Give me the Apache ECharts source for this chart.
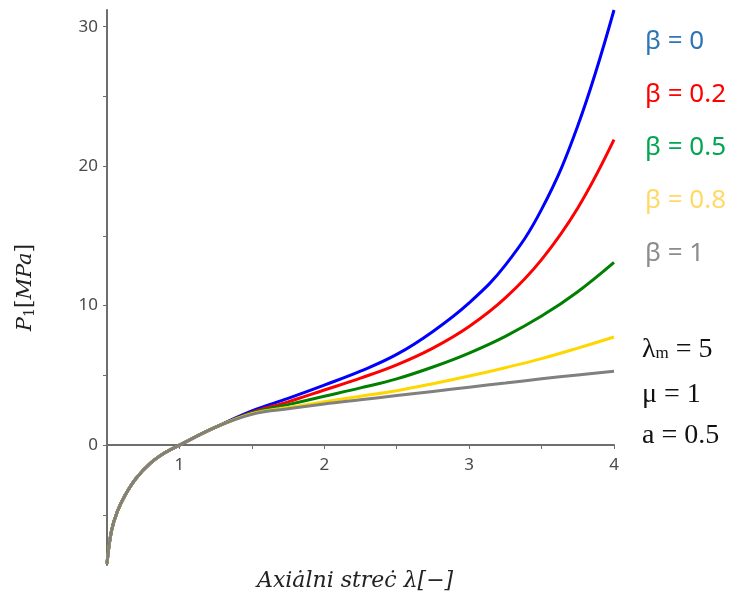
<!DOCTYPE html>
<html>
<head>
<meta charset="utf-8">
<script src="https://cdn.jsdelivr.net/npm/echarts@6/dist/echarts.min.js"></script>
<style>
  html, body { margin: 0; padding: 0; background: #fff; }
  #chart { width: 742px; height: 599px; }
</style>
</head>
<body>
<div id="chart"></div>
<script>
// axial stretch values (lambda)
var lambda = [0.5, 0.53, 0.57, 0.625, 0.7, 0.8, 0.9, 1.0, 1.25,
              1.5, 1.75, 2.0, 2.25, 2.5, 2.75, 3.0, 3.25, 3.5, 3.75, 4.0];

// compression part, all curves lie on top of each other here
var pCommon = [-8.5, -6.2, -4.8, -3.6, -2.4, -1.3, -0.55, 0, 1.28];

// tension part, lambda 1.5 .. 4
var pBeta0   = [2.45, 3.35, 4.3, 5.3, 6.5, 8.15, 10.2, 12.9, 16.9, 22.9, 31.2];
var pBeta02  = [2.35, 3.1, 3.95, 4.8, 5.75, 6.95, 8.5, 10.55, 13.3, 17.0, 21.9];
var pBeta05  = [2.3, 2.9, 3.5, 4.1, 4.75, 5.6, 6.6, 7.8, 9.25, 11.0, 13.1];
var pBeta08  = [2.25, 2.7, 3.1, 3.5, 3.9, 4.4, 4.95, 5.55, 6.2, 6.95, 7.75];
var pBeta1   = [2.2, 2.6, 2.95, 3.25, 3.55, 3.85, 4.15, 4.45, 4.75, 5.03, 5.3];

var betaNames  = ['β = 0', 'β = 0.2', 'β = 0.5', 'β = 0.8', 'β = 1'];
var lineColors = ['#0000ff', '#ff0000', '#008000', '#ffd700', '#808080'];
var textColors = ['#2e75b6', '#ff0000', '#00a651', '#ffd966', '#8c8c8c'];

var yLabels = [0, 10, 20, 30];
var yTicks  = [-5, 0, 5, 10, 15, 20, 25, 30];
var xLabels = [1, 2, 3, 4];
var xTicks  = [1, 1.5, 2, 2.5, 3, 3.5, 4];

function makeData(high) {
    var vals = pCommon.concat(high);
    var out = [];
    for (var i = 0; i < lambda.length; i++) {
        out.push([lambda[i], vals[i]]);
    }
    return out;
}

var allSets = [pBeta0, pBeta02, pBeta05, pBeta08, pBeta1];

var myChart = echarts.init(document.getElementById('chart'));

var seriesList = [];
for (var k = 0; k < allSets.length; k++) {
    seriesList.push({
        name: betaNames[k],
        type: 'line',
        data: makeData(allSets[k]),
        smooth: 0.4,
        showSymbol: false,
        lineStyle: { color: lineColors[k], width: 3 },
        itemStyle: { color: lineColors[k] }
    });
}

var legendData = [];
for (var j = 0; j < betaNames.length; j++) {
    legendData.push({ name: betaNames[j], textStyle: { color: textColors[j] } });
}

var option = {
    animation: false,
    grid: { left: 107, right: 128, top: 10, bottom: 34, containLabel: false, outerBoundsMode: 'none' },
    legend: {
        data: legendData,
        orient: 'vertical',
        left: 638,
        top: 24,
        itemWidth: 0,
        itemHeight: 0,
        itemGap: 27,
        selectedMode: false,
        textStyle: { fontFamily: 'Noto Sans', fontSize: 26, padding: [0, 0, 0, -4] }
    },
    xAxis: {
        type: 'value',
        min: 0.5,
        max: 4,
        // axis sits on P = 0, moved up from the grid bottom
        offset: -120,
        splitLine: { show: false },
        axisLine: { onZero: false, lineStyle: { color: '#6e6e6e', width: 2 } },
        axisTick: { customValues: xTicks, length: 4, lineStyle: { color: '#6e6e6e' } },
        axisLabel: { customValues: xLabels, margin: 12, fontFamily: 'Noto Sans', fontSize: 17, color: '#4a4a4a' }
    },
    yAxis: {
        type: 'value',
        min: -8.6,
        max: 31.2,
        name: '{i|P}{s|1}{n|[}{i|MPa}{n|]}',
        nameLocation: 'middle',
        nameGap: 70,
        nameRotate: 90,
        nameTextStyle: {
            rich: {
                i: { fontFamily: 'DejaVu Serif', fontStyle: 'italic', fontSize: 21, color: '#222' },
                s: { fontFamily: 'DejaVu Serif', fontSize: 14, color: '#222', padding: [9, 0, 0, 0] },
                n: { fontFamily: 'DejaVu Serif', fontSize: 22, color: '#222' }
            }
        },
        splitLine: { show: false },
        axisLine: { onZero: false, lineStyle: { color: '#6e6e6e', width: 2 } },
        axisTick: { customValues: yTicks, length: 4, lineStyle: { color: '#6e6e6e' } },
        axisLabel: { customValues: yLabels, margin: 9, fontFamily: 'Noto Sans', fontSize: 17, color: '#4a4a4a' }
    },
    graphic: [
        {
            type: 'text', left: 257, top: 570,
            style: {
                text: 'Axiȧlni streċ λ[−]',
                fontFamily: 'DejaVu Serif', fontStyle: 'italic', fontSize: 22, fill: '#222'
            }
        },
        {
            type: 'text', left: 642, top: 336,
            style: {
                text: '{l|λ}{m|m}{t| = 5}',
                rich: {
                    l: { fontFamily: 'Liberation Serif', fontSize: 28, fill: '#111' },
                    m: { fontFamily: 'Liberation Serif', fontSize: 17, fill: '#111', padding: [8, 0, 0, 0] },
                    t: { fontFamily: 'Liberation Serif', fontSize: 28, fill: '#111' }
                }
            }
        },
        {
            type: 'text', left: 642, top: 381,
            style: { text: 'μ = 1', fontFamily: 'Liberation Serif', fontSize: 28, fill: '#111' }
        },
        {
            type: 'text', left: 642, top: 422,
            style: { text: 'a = 0.5', fontFamily: 'Liberation Serif', fontSize: 28, fill: '#111' }
        }
    ],
    series: seriesList
};

myChart.setOption(option);
</script>
</body>
</html>
